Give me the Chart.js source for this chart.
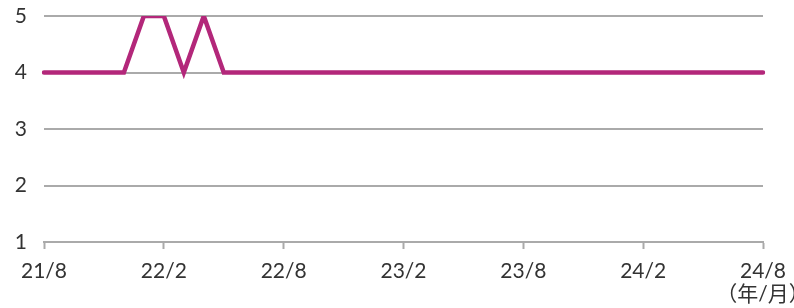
<!DOCTYPE html>
<html>
<head>
<meta charset="utf-8">
<script src="https://cdn.jsdelivr.net/npm/chart.js@4"></script>
<style>
  html, body { margin: 0; padding: 0; background: #fff; }
  #wrap { width: 794px; height: 308px; }
</style>
</head>
<body>
<div id="wrap"><canvas id="c" width="794" height="308"></canvas></div>
<script>
// months from 21/8 to 24/8
const months = [
  '21/8','21/9','21/10','21/11','21/12','22/1','22/2','22/3','22/4','22/5','22/6','22/7',
  '22/8','22/9','22/10','22/11','22/12','23/1','23/2','23/3','23/4','23/5','23/6','23/7',
  '23/8','23/9','23/10','23/11','23/12','24/1','24/2','24/3','24/4','24/5','24/6','24/7','24/8'
];
const values = [
  4,4,4,4,4,5,5,4,5,4,4,4,
  4,4,4,4,4,4,4,4,4,4,4,4,
  4,4,4,4,4,4,4,4,4,4,4,4,4
];
const shownTicks = ['21/8','22/2','22/8','23/2','23/8','24/2','24/8'];
const yTicks = [1, 2, 3, 4, 5];
const unitLabel = '（年/月）';

const ctx = document.getElementById('c').getContext('2d');
const font = { family: 'Lato, "Noto Sans CJK JP", sans-serif', size: 21, lineHeight: 1.1 };

new Chart(ctx, {
    type: 'line',
    data: {
        labels: months,
        datasets: [{
            data: values,
            borderColor: '#B3277A',
            borderWidth: 4.5,
            pointRadius: 0,
            tension: 0,
            borderJoinStyle: 'miter',
            borderCapStyle: 'round'
        }]
    },
    options: {
        responsive: false,
        animation: false,
        layout: { padding: { top: 16, right: 31, left: 0, bottom: 0 } },
        plugins: { legend: { display: false }, tooltip: { enabled: false } },
        scales: {
            x: {
                offset: false,
                border: { color: '#aaa', width: 2 },
                grid: {
                    drawOnChartArea: false,
                    tickLength: 7,
                    tickWidth: 2,
                    color: c => shownTicks.includes(months[c.index]) ? '#aaa' : 'rgba(0,0,0,0)'
                },
                ticks: {
                    autoSkip: false,
                    maxRotation: 0,
                    padding: 11,
                    color: '#333',
                    font: font,
                    callback: (v, i) => {
                        const m = months[i];
                        if (!shownTicks.includes(m)) return '';
                        return i === months.length - 1 ? [m, unitLabel] : m;
                    }
                },
                afterFit: s => {
                    s.height = 66;
                    s.paddingLeft = 0;
                    s.paddingRight = 0;
                }
            },
            y: {
                min: yTicks[0],
                max: yTicks[yTicks.length - 1],
                border: { display: false },
                grid: { color: '#aaa', lineWidth: 2, drawTicks: false },
                ticks: {
                    stepSize: 1,
                    padding: 17,
                    color: '#333',
                    font: font
                },
                afterFit: s => {
                    s.width = 44;
                    s.paddingTop = 0;
                    s.paddingBottom = 0;
                }
            }
        }
    }
});
</script>
</body>
</html>
